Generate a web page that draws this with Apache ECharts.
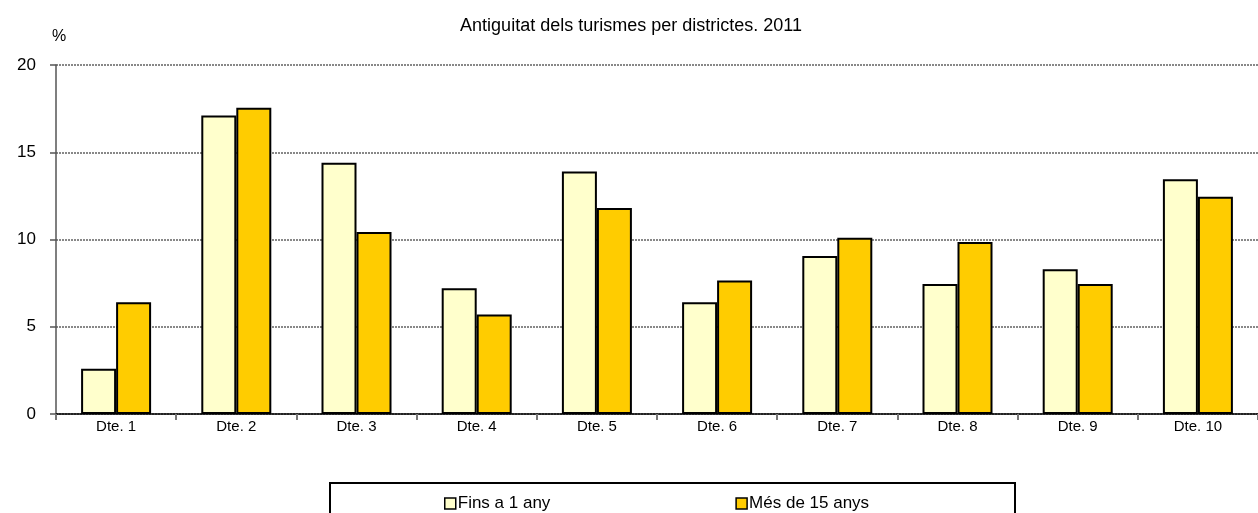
<!DOCTYPE html>
<html>
<head>
<meta charset="utf-8">
<script src="https://cdn.jsdelivr.net/npm/echarts@6/dist/echarts.min.js"></script>
<style>
html,body{margin:0;padding:0;background:#fff;}
#chart{width:1258px;height:513px;}
</style>
</head>
<body>
<div id="chart"></div>
<script>
const categories = ['Dte. 1','Dte. 2','Dte. 3','Dte. 4','Dte. 5','Dte. 6','Dte. 7','Dte. 8','Dte. 9','Dte. 10'];
const finsA1Any = [2.6, 17.1, 14.4, 7.2, 13.9, 6.4, 9.05, 7.45, 8.3, 13.45];
const mesDe15Anys = [6.4, 17.55, 10.43, 5.7, 11.8, 7.65, 10.1, 9.85, 7.45, 12.45];
const seriesNames = ['Fins a 1 any', 'Més de 15 anys'];
const titleText = 'Antiguitat dels turismes per districtes. 2011';

const chart = echarts.init(document.getElementById('chart'));
const font = 'Liberation Sans, Arial, sans-serif';
chart.setOption({
  animation: false,
  backgroundColor: '#fff',
  title: {
    text: titleText,
    left: 626, top: 12, textAlign: 'center',
    textStyle: {fontFamily: font, fontSize: 18, fontWeight: 'normal', color: '#000'}
  },
  legend: {
    left: 439, top: 490,
    itemWidth: 11, itemHeight: 11, itemGap: 185,
    icon: 'rect',
    textStyle: {fontFamily: font, fontSize: 17, color: '#000', padding: [0,0,0,-3]},
    itemStyle: {borderColor: '#000', borderWidth: 1.5},
    data: seriesNames
  },
  graphic: [{
    type: 'rect', silent: true,
    shape: {x: 330, y: 483, width: 685, height: 40},
    style: {fill: 'none', stroke: '#000', lineWidth: 2}
  }],
  grid: {left: 56, right: 0, top: 65, bottom: 99, containLabel: false},
  xAxis: {
    type: 'category',
    data: categories,
    axisLine: {lineStyle: {color: '#000', width: 1.5}},
    axisTick: {show: true, alignWithLabel: false, length: 6, lineStyle: {color: '#777', width: 2}},
    axisLabel: {fontFamily: font, fontSize: 15, color: '#000', margin: 5}
  },
  yAxis: {
    type: 'value', min: 0, max: 20, interval: 5,
    name: '%',
    nameLocation: 'end', nameGap: 20,
    nameTextStyle: {fontFamily: font, fontSize: 16, color: '#000', align: 'left', padding: [0,0,0,-4]},
    axisLine: {show: true, lineStyle: {color: '#555', width: 1.5}},
    axisTick: {show: true, length: 6, lineStyle: {color: '#555', width: 1.5}},
    axisLabel: {fontFamily: font, fontSize: 17, color: '#000', margin: 20},
    splitLine: {show: true, lineStyle: {color: '#888', type: [2,1], width: 2}}
  },
  series: [
    {
      name: seriesNames[0], type: 'bar', data: finsA1Any,
      barWidth: 35, barGap: '0%',
      itemStyle: {color: '#FFFFCC', borderColor: '#000', borderWidth: 2}
    },
    {
      name: seriesNames[1], type: 'bar', data: mesDe15Anys,
      barWidth: 35, barGap: '0%',
      itemStyle: {color: '#FFCC00', borderColor: '#000', borderWidth: 2}
    }
  ]
});
</script>
</body>
</html>
